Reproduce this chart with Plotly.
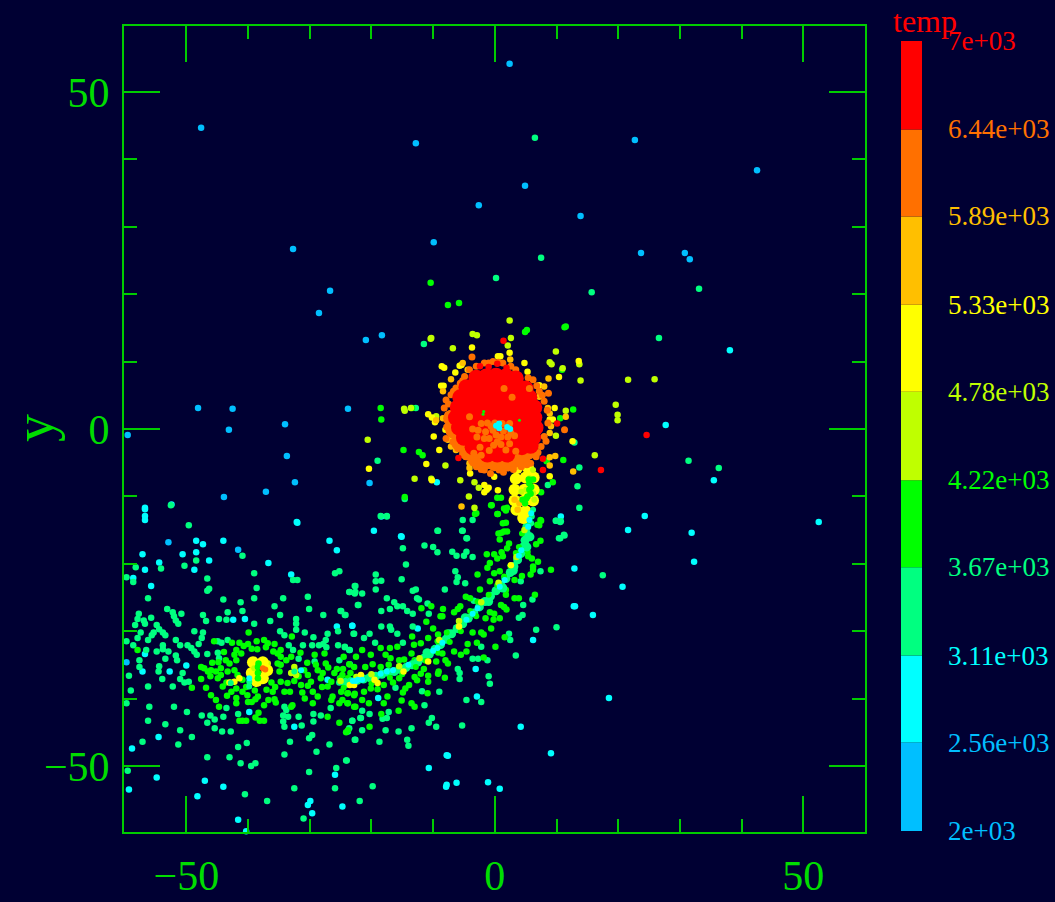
import plotly.graph_objects as go

BG = "#000033"
AXIS = "#00CC00"
LEVELS = [2000, 2560, 3110, 3670, 4220, 4780, 5330, 5890, 6440, 7000]
LEVEL_TEXT = ["2e+03", "2.56e+03", "3.11e+03", "3.67e+03", "4.22e+03", "4.78e+03", "5.33e+03", "5.89e+03", "6.44e+03", "7e+03"]
LEVEL_TEXT_COLOR = ["#00BFFF", "#00BFFF", "#00FFFF", "#00FF80", "#00FF00", "#BFFF00", "#FFFF00", "#FFBF00", "#FF7000", "#FF0000"]
BIN_COLOR = ["#00BFFF", "#00FFFF", "#00FF80", "#00FF00", "#BFFF00", "#FFFF00", "#FFBF00", "#FF7000", "#FF0000"]

DEEP = [(2.4,54.2),(-47.6,44.7),(-12.8,42.4),(22.7,42.9),(42.5,38.4),(4.9,36.1),(-2.6,33.2),(13.9,31.6),(-9.9,27.7),(-32.7,26.7),
(23.7,26.1),(30.8,26.1),(31.6,25.2),(-26.7,20.5),(-28.5,17.2),(-20.9,13.2),(-18.3,13.9),(-48.1,3.1),(-42.5,3.0),(-43.1,-0.1),
(-23.8,3.0),(-34,0.7),(-59.5,-0.9),(-33.7,-4),(-32.4,-7.9),(-37.1,-9.3),(-43.9,-10.1),(-20.3,-8),(-52.9,-16.8),(-41.6,-17.9),(-59.7,-34.6)]

CYAN = [(38.1,11.7),(27.7,0.6),(35.5,-7.6),(52.5,-13.8),(31.9,-15.4),(32.3,-19.7),(21.6,-15),(24.3,-12.9),(20.7,-23.4),(13,-26.3),
(15.9,-27.6),(18.5,-39.9),(4.2,-44.2),(9.1,-48.1),(-1.1,-52.4),(0.8,-53.4),(-7.8,-48.4),(-10.7,-50.3),(-7.8,-52.8),(-6.2,-52.5),
(-56.7,-11.7),(-56.7,-12.9),(-32.1,-13.8),(-56.7,-11.9),(-52.4,-11.2),(-56.7,-13.5),(-48.4,-16.6),(-47.3,-17.1),(-44,-16.6),
(-57.1,-18.6),(-50.6,-18.6),(-48.4,-18.3),(-46.3,-19.5),(-54.4,-19.8),(-56.7,-20.9),(-48.7,-20.9),(-58.6,-22.1),(-55.7,-23.3),
(-32,-13.9),(-26.8,-16.6),(-25.6,-18),(-36.7,-19.9),(-33,-21.6),(-25.6,-29.3),(-23.1,-29.2),(-42.4,-28.3),(-40.5,-28.2),
(-56.7,-33.4),(-57.1,-36),(-52.7,-36),(-50,-35.1),(-27.1,-37.2),(-39.8,-42),(-32.5,-44.2),(-54.5,-45.7),(-58.8,-47.4),(-54.8,-51.7),
(-59.3,-53.5),(-47,-52.2),(-44,-53.1),(-48.2,-54.5),(-41.6,-58),(-40.3,-59.7),(-25.9,-51.3),(-29.9,-55.2),(-30.3,-55.8),(-29.6,-57),
(-24.7,-56),(-18.4,-13),(-19.6,-15.1),(-15.1,-16),(10.7,-13),(12.9,-20.7),(12.8,-26.3),(6.2,-31.3),(-23.1,-29.2),(-12.5,-29.6),
(-3.1,-35.6),(-2.9,-39.7),(-18.9,-39.9),(-7.6,-48.5),(-7.9,-53.1),(-9.4,-7.9),(-15.2,-15.9)]

SPRING = [(6.5,43.2),(7.5,25.4),(0.2,22.4),(33.1,20.8),(15.7,20.3),(26.6,13.5),(-19,-4.7),(-52.5,-11.3),(31.4,-4.7),(36.3,-5.8),(17.5,-21.7),
(-11.5,12.6),(-12.8,3.1),(12.9,-2),(13.7,-5.7),(8.6,-8.3),(13.4,-8.5),(13.7,-11.7),(9.9,-13.6),(10.6,-13.8),(11.3,-15.8),(10.6,-16.2),
(-14.6,-10.4),(-5.2,-13.5),(-3.6,-13.5),(-5.2,-15.1),(-9.2,-15.1),(-4.5,-16.2),(-18.5,-12.9),(-17.5,-12.9),
(-49.6,-14.3),(-40.9,-18.8),(-48.4,-19.5),(-50.3,-20.3),(-54.1,-20.7),(-58.2,-20.5),(-59.7,-22),(-58.6,-22.7),(-46.6,-22.2),(-46.3,-23.7),(-46.6,-24),
(-39,-21.4),(-38.6,-23.6),(-32.7,-22.4),(-32,-22.4),(-25.9,-21.4),(-25.2,-21.1),(-23.5,-24.2),(-22.6,-23.3),(-22.6,-24.2),(-22.1,-26.1),
(-56.2,-25.1),(-44,-25.3),(-41.2,-25.7),(-39,-25.1),(-34.3,-25.1),(-30.3,-24.9),(-35.7,-26.3),(-30.1,-26.7),(-40.9,-27),(-43.3,-27.2),
(-34.8,-27.6),(-27.8,-27.6),(-24.9,-27),(-24.2,-27.6),(-53.1,-26.7),(-52.2,-27.2),(-52,-27.8),(-51.7,-28.4),(-51.3,-28.9),(-50.8,-27.4),
(-57.7,-27.4),(-57.9,-28.2),(-58.3,-29.1),(-56.9,-28.4),(-56.7,-28.9),(-55.7,-28),(-54.8,-29.1),(-54.4,-29.7),(-53.8,-30.2),(-53.4,-30.6),
(-55.3,-30.2),(-55.6,-30.6),(-56.2,-31.3),(-57.4,-30.2),(-57.9,-31),(-59.7,-31.5),(-58.6,-32.1),(-56.5,-32.8),(-54.8,-33),(-53.8,-32.1),
(-53.8,-32.7),(-52.9,-33),(-53.4,-34.1),(-51.7,-31.3),(-51,-32.1),(-51.7,-33.6),(-51.5,-34.3),(-54.4,-35.2),(-54.5,-36),(-57.6,-34.3),
(-57.6,-35.3),(-59.3,-36.6),(-53.9,-37.1),(-56.2,-38.2),(-59,-38.8),(-52.2,-38.2),(-51,-37.1),(-50.3,-37.6),(-49.6,-37.5),(-50.6,-36.2),
(-49.8,-32.1),(-49.2,-32.5),(-48.7,-33),(-48.3,-33.5),(-48,-31.9),(-47.5,-31),(-47.3,-30.2),(-48.7,-30),(-47.3,-27.6),(-46.8,-28.5),
(-44.7,-28.2),(-43.5,-28.3),(-39,-28.9),(-36.4,-28.5),(-32.2,-28.2),(-32.2,-28.9),(-32.2,-29.8),(-34.8,-30),(-34.1,-30.6),(-30.8,-30.2),
(-29.4,-30.9),(-27.1,-30.4),(-27.4,-31.3),(-27.8,-31.9),(-27.3,-32.4),(-25.4,-30),(-22.8,-30.4),(-25.4,-32.1),(-24.3,-32.4),(-23.5,-32.8),
(-33.4,-32.1),(-32.7,-32.8),(-31.1,-32.1),(-29.6,-32.1),(-28.5,-32.1),(-46.6,-33.4),(-44.9,-33.2),(-44.7,-34),(-31.8,-34.1),(-29.2,-34.5),
(-25.2,-34.3),(-23.5,-34.9),(-43.3,-31.3),(-44.3,-31.7),(-44.9,-31.5),(-56,-41.2),(-59.7,-40.7),(-52,-41.2),(-49.9,-42),(-56.2,-43.3),
(-53.4,-43.8),(-47.5,-42.5),(-46.1,-42.5),(-45.4,-43.1),(-46.6,-43.6),(-44,-42.7),(-41.6,-42.3),(-51,-44.7),(-49.1,-45.7),(-45.4,-44.4),
(-44.2,-44.9),(-42.8,-44.9),(-57.1,-46.4),(-51.3,-46.8),(-41.6,-47.2),(-40.2,-46.6),(-46.6,-48.7),(-43,-48.7),(-41.2,-49.6),(-39.5,-50),
(-38.8,-49.6),(-59.5,-50.7),(-40.5,-54.2),(-36.9,-55.2),(-31,-57.8),(-21.9,-55.2),(-25.9,-53.3),(-32.5,-53.3),(-30.1,-50.9),(-25.7,-50.3),
(-24,-49.2),(-34.1,-48.3),(-28.9,-47.9),(-26.8,-46.8),(-33.2,-46.4),(-30.1,-45.9),(-29.6,-45.4),(-22.6,-46.1),(-31.3,-44),(-34.1,-44.2),
(-34.3,-43.4),(-33.5,-42.7),(-34.3,-42.5),(-31.8,-42.7),(-29.4,-42.3),(-29.4,-43.4),(-28.2,-42.5),(-26.6,-41.4),(-23.1,-43.3),(-21.7,-42.9),
(-23.6,-44.4),(-23.8,-44.9),(-34.1,-41.2),(-33.8,-41.7),(-43.5,-41.4),(-25.2,-37.6),
(-17.5,-13),(-9.3,-15.1),(-5.3,-15.1),(-4.6,-16.2),(-11.4,-17.3),(-10,-17.5),(-9.3,-18.3),(-14.9,-17.7),(-14.4,-20.1),(-6.9,-18.2),(-6.2,-18.8),
(-5,-18.8),(-4.6,-18.2),(-3.6,-19),(-19.3,-21.6),(-19.3,-22.6),(-19.3,-23.8),(-18.4,-22.5),(-15.1,-22.3),(-6.4,-21.1),(-6,-22),(-6.2,-22.7),
(-4.8,-22.9),(-8.1,-23.8),(-13.3,-24),(-12.8,-23.8),(-22.7,-23.3),(-22.7,-24.4),(-23.6,-24.2),(-21.5,-24.4),(-22.2,-26.1),(-17.5,-25.1),
(-16.3,-25.7),(-15.8,-26.3),(-14.9,-26.3),(-14.2,-27),(-17,-26.7),(-18.4,-27),(-13.3,-27.4),(-12.6,-25.1),(-12.3,-25.3),(-10.9,-25.9),
(-10.7,-27.4),(-24.3,-27.6),(-25,-27),(-18.4,-29.3),(-17,-29.3),(-16.8,-29.8),(-15.8,-30.4),(-13.3,-29.3),(-20.3,-30.4),(-21.2,-31),
(-22.9,-30.4),(-14.9,-31.7),(-19.4,-31.7),(-24.3,-32.3),(-23.6,-32.8),(-3.4,-25.5),(7.4,-21.1),(4.2,-22.6),(6.1,-25.3),(4.6,-26.1),(4.5,-27.6),
(3.9,-28),(6.7,-29.8),(10,-29.4),(2.3,-30.4),(2.5,-31.3),(3.4,-33.6),(-2.2,-32.3),(-3.6,-34.1),(-2.7,-34.1),(-1.2,-34.3),(-1,-36.7),
(-0.8,-37.8),(-2.2,-40.5),(-4.6,-40.2),(-6,-35.6),(-5.7,-36.2),(-5.7,-37.1),(-9,-39),(-11.8,-38.9),(-16.1,-38.4),(-11.4,-41),(-5.3,-44),
(-9.5,-44.2),(-10.2,-42.9),(-10.7,-43.6),(-13.5,-44.4),(-15.6,-44.9),(-17.7,-44.7),(-21.5,-44.7),(-23.1,-43.3),(-21.5,-41.8),(-21.8,-42.9),
(-20.3,-42.3),(-18.2,-43),(-17.5,-42.9),(-17.2,-42),(-22.7,-46.1),(-18.7,-46.4),(-14.2,-46.1),(-14,-47),(-24.1,-49.2),(-19.8,-53),
(10.7,-13.7),(11.2,-15.7),(10.4,-16.2),(9.9,-13.6)]

GREEN = [(-10.4,21.7),(-7.6,18.4),(-5.8,18.7),(11.3,15.1),(4.9,14.4),(5.2,14.7),(11.5,15.2),(10.9,8.8),(-13.4,3.1),(12.7,2.9),(10.6,1.6),
(-14.8,-3.1),(-11.7,-3.9),(8.4,-4.8),(11.1,-4.6),(9.4,-7.9),(7.5,-9.4),(-0.5,-11.3),(0.5,-12.6),(-3,-12.5),(7.5,-13.6),(7.2,-14.3),
(-18.5,3.1),(-18.4,1.4),(-12.3,-3.4),(-14.6,-10.1),(0.4,-10.2),(1,-10.2),(1.5,-11.8),(1.8,-12.1),(1.3,-14),(0.6,-15.5),(1.5,-15.2),
(-39.9,-30.2),(-32.9,-30.8),(-57.9,-32.8),(-49.1,-38.4),(-45.5,-31.5),(-42.6,-31.7),(-41.4,-31.7),(-40,-31.9),(-38.6,-31.5),(-37.4,-31.3),
(-36.8,-31.8),(-35.7,-31.9),(-41.9,-32.8),(-42.2,-33.5),(-43.6,-34.3),(-43,-34.8),(-41.9,-34.3),(-41.1,-33.3),(-44.4,-35.5),(-45.2,-36),
(-46,-35.8),(-47.1,-35.5),(-47.6,-35.3),(-44.4,-36.5),(-44.9,-37),(-44.1,-38.2),(-47.6,-37.1),(-46.1,-36.7),(-46.8,-38.4),(-42.2,-35.8),
(-41.7,-36.5),(-42.8,-37.6),(-40.9,-37.2),(-41.9,-38.5),(-40.9,-39),(-40.1,-39.5),(-41.9,-39.9),(-41.9,-40.7),(-46,-39.5),(-45.2,-40.2),
(-44.7,-41.2),(-40,-40.5),(-39.4,-40.5),(-38.8,-40.1),(-37.4,-41),(-36.7,-40.2),(-35.7,-40.1),(-35.5,-40.6),(-41.4,-43.3),(-40.9,-43.3),
(-40.3,-43.3),(-38.8,-42.8),(-38.3,-42.1),(-38.1,-43.3),(-37.4,-43.3),(-35.2,-33.3),(-34.7,-33.8),(-35.2,-34.8),(-34.7,-35),(-34.9,-36),
(-34.7,-37.5),(-33.6,-37.7),(-34.1,-39),(-33.2,-39),(-34.7,-32.8),(-33,-33.8),(-33.8,-34.3),(-30.9,-35.8),(-30.3,-36.5),(-29.8,-37.5),
(-30.3,-38.1),(-31.4,-38),(-29.5,-39),(-28.7,-39.7),(-29.5,-40.7),(-29.2,-33.5),(-27.6,-33.3),(-27.4,-34.8),(-28.7,-35.8),(-27.9,-36.2),
(-26,-36.2),(-26.5,-37.5),(-26.3,-39.7),(-26.5,-40.2),(-24.9,-39),(-25.2,-40.7),(-23.8,-39.2),(-23.8,-40.7),(-22.8,-41.2),(-27.1,-42.7),
(-25.2,-43.6),(-22.8,-35.3),(-23.8,-37),(-24.7,-36.5),(-33,-41.2),(-32.8,-41),(-38.4,-39.7),(-27.1,-38.2),
(-3.2,-12.6),(0.4,-12.6),(-0.6,-11.3),(1.8,-13.9),(2,-11.7),(1.1,-15.4),(2,-15.2),(0.8,-16.4),(2.3,-17),(2,-17.7),(6.7,-17.1),(7.4,-16.6),(6.9,-14.2),
(7.4,-13.5),(-1.3,-18.6),(-0.1,-18.6),(0.4,-19.2),(1.1,-18.3),(1.3,-18.9),(5.3,-18.2),(5.4,-18.9),(6,-19.2),(7,-19.7),(9.1,-20.9),(6.2,-20.4),
(6.2,-20.9),(5.8,-21.6),(4.4,-21.8),(3.2,-22.4),(-0.8,-19.9),(-1.2,-20.6),(-0.1,-21.4),(0.8,-21.1),(-2.8,-21.6),(-0.8,-22.6),(-2.4,-23.8),
(-4.7,-24.9),(-4,-25.1),(1.8,-24.6),(1.8,-23.9),(3.2,-25.1),(3.9,-25.1),(6.5,-24.6),(1,-26.1),(1.5,-26.4),(1.9,-26.8),(-0.8,-27.2),(-0.1,-27.4),
(-1.5,-28.1),(-0.2,-28.3),(0.8,-28.1),(-0.6,-29.6),(-3.6,-30.2),(-2.2,-30.2),(-1.8,-30.5),(1.6,-30.9),(0.1,-32.3),(-2.9,-31.7),(-4.4,-31.9),
(-4.6,-33),(-5.5,-33.5),(-6.6,-33),(-1.8,-33.9),(-5.6,-26.3),(-6,-26.7),(-6.6,-27.2),(-8.4,-26.7),(-8.5,-27.8),(-8.8,-27.8),(-10.3,-26.3),
(-11.9,-26.6),(-11.1,-28.6),(-10,-29.6),(-9.2,-30.5),(-10.8,-31),(-12,-31.8),(-13.4,-30.8),(-13.1,-32),(-15.8,-32.3),(-17,-32.5),(-18.5,-32.5),
(-17.7,-33.5),(-20.1,-33.5),(-21.5,-32.8),(-15.5,-34.3),(-14.7,-34.2),(-13.5,-33.3),(-16.9,-34),(-19.8,-34.9),(-18.5,-35.3),(-23.6,-34.9),
(-24.6,-35.6),(-23.4,-36.2),(-9.5,-34.5),(-8,-34.3),(-7.6,-34.8),(-8.5,-33.3),(-12,-36.3),(-12.6,-37.3),(-10.8,-36.6),(-10.8,-37.5),(-9.1,-36),
(-9.2,-36.3),(-8.1,-36.9),(-13.9,-38),(-14.5,-38.5),(-14.9,-39.1),(-15.1,-40.3),(-10.9,-39.2),(-13.5,-40.7),(-13,-41.2),(-17.4,-39.7),(-18,-40.7),
(-21.5,-40.2),(-21.2,-39),(-22.8,-39.5),(-23.9,-39.2),(-20.1,-38.5),(-20.4,-40.7),(-22.6,-41.2),(-23.9,-40.7),(-24.7,-40.2),(-15.6,-41.8),
(-18.4,-42.3),(-20.3,-44.2),(-23.8,-44.7),(-24.1,-45),
(-44.8,-34.6),(-43.9,-33.1),(-45.8,-34.7),(-46.5,-36),(-43.3,-36),(-43.5,-37.6),(-42.7,-39),(-43.4,-39.6),(-40.7,-32.2),(-39.4,-32.6),(-38.5,-32.7),
(-37.1,-32.4),(-35.9,-33),(-36.2,-37.6),(-35.6,-38.3),(-37,-38.7),(-38.9,-38.8),(-40.3,-38.3),(-36,-39),(-32.5,-37.4),(-31.8,-36.7),(-31.2,-39.1),
(-30.8,-40),(-28.2,-37),(-28,-38.3),(-27,-35.4),(-25.6,-35.6),(-25.1,-37),(-24.2,-38),(-22.7,-39.3),(-22.5,-36.8),(-29,-35),(-30.4,-34.7),(-31.5,-33.2),
(-19,-38.6),(-18,-38),(-16.5,-37.6),(-15.5,-37),(-13,-36.8),(-11.5,-35.6),(-24.5,-33.8),(-22.5,-33.8),(-21,-35.3),(-17.2,-35),(-13,-34.3)]

STREAM = [(5.2,-14.5),(5.1,-15.5),(4.9,-16.5),(4.6,-17.5),(4.2,-18.5),(3.7,-19.4),(3.1,-20.4),(2.5,-21.3),(1.8,-22.2),(1.0,-23.2),(0.2,-24),
(-0.7,-24.8),(-1.6,-25.6),(-2.5,-26.4),(-3.4,-27.3),(-4.3,-28.1),(-5.2,-28.9),(-6.1,-29.6),(-7,-30.4),(-7.9,-31.2),(-8.8,-32),(-9.7,-32.7),
(-10.6,-33.4),(-11.5,-34),(-12.5,-34.6),(-13.4,-35),(-14.4,-35.4),(-15.3,-35.7),(-16.3,-36),(-17.3,-36.1),(-18.3,-36.4),(-19.3,-36.7),
(-20.3,-36.9),(-21.3,-37.1),(-22.3,-37.3),(-23.3,-37.5),(-24.3,-37.6),(5.7,-16),(5.2,-17.5),(3,-21),(1.3,-23.6),(-1,-25.6),(-4.8,-28),(-7.5,-30.4),(-11,-33.2)]

STREAM_GREEN = [(4.4,-15.5),(3.9,-17.5),(3.4,-18.4),(2.5,-20.3),(1.5,-21.9),(0.4,-23.2),(-1,-24.6),(-2.8,-25.6),(-4,-27),(-5.8,-28.6),(-7.8,-30.2),(-9.3,-31.5),
(-11.2,-34.4),(-12.8,-35.3),(-15,-36.4),(-17,-36.9),(-20,-37.8),(-24.5,-38.4),(-3,-27.8),(-5.5,-30),(-7.3,-31.6),(-9.2,-33.2)]

LIME = [(-10.3,13.5),(-6.8,12),(-3.6,14.1),(-2.9,13.9),(2.1,12.4),(2.6,13.5),(2.4,16.1),(9.9,11.5),(8.9,9.9),(13.7,9.6),(13.9,7.2),(-14.6,2.7),
(-9.5,1.9),(-8,-5.4),(-10.3,-7.4),(-5.6,-7.6),(-3.3,-7.9),(-2.6,-8.7),(-4.2,-10),(-3.3,-11.7),(9.9,-1),(11.5,2.7),(16.2,-3.9),(21.6,7.3),(25.9,7.4),
(19.6,3.6),(19.9,2.1),(19.9,1.3),(9.2,9.6),(11,9),(-14.7,3),(-13.6,3.1),(-20.6,-1.6),(-13,-7.4),(-10.4,13.4),(3.4,0.6),(4,1.3),
(-36.8,-34.8),(-32.5,-35.3),(-32.2,-36.5),(-33,-36.2),(-32.4,-35.9),
(-20,-36.4),(-15.5,-35.2),(-12.2,-34),(-9,-31.3),(-5.8,-28.5),(-2.2,-25.7),(0.6,-22.8),(3.5,-19),(4.8,-15),(-22.4,-36.8),(-25,-37.4)]

YELLOW = [(13.6,10.1),(2.4,11.3),(10.4,7.7),(-3.7,12.1),(0.5,10.8),(0.9,10.8),(4.8,9.8),(-8.6,9.3),(-8.2,9.1),(-5.4,9.5),(-5.7,9.4),(-6.4,8.4),
(-8.7,6.4),(-8.3,6.4),(7.2,6.5),(5.3,8.5),(9.7,3.1),(8.9,1.4),(9.4,1.4),(-8,-0.1),(-7.1,-0.7),(-0.1,-7.1),(-4,-6.6),(-10.8,2.2),(-10.2,1.7),(-9.7,1),
(-11.1,-5.2),(-9,-3.1),(-9.9,-1.1),(-1.7,-8.3),(-1,-8.7),(-1.3,-9),(-1.7,-9.4),(0.5,-9.1),(8.9,-7),(12.6,-1.8),(-20.4,-5.9),(-10.2,-7.6),
(-43,-37.6),(-42.2,-37.5),(-41.4,-37),(-23.5,-38),(-22.8,-38),(-21.7,-36.5),(-19.5,-37.2),(-19,-37.7),
(-14.8,-36),(-10.8,-34.5),(-5.8,-29.3),(2.6,-20.2)]

NECK_YELLOW = [(3.6,-5.8),(5.4,-5.8),(3.4,-7.4),(5,-7.2),(6.3,-7.2),(3.2,-9),(4.8,-9),(6.3,-9),(3.2,-10.6),(4.8,-10.6),(6.2,-10.6),(3.5,-12),(5,-12.2),(4.6,-13.2),
(-39.2,-34.6),(-37.6,-34.6),(-36.9,-35.8),(-39.4,-36.2),(-37.6,-37),(-38.6,-37.4)]

AMBER = [(11.5,1.8),(9.8,-4),(8.9,-4.2),(8.9,-5.4),(12.7,-6.3),(-5.4,-11.5),(-5.2,9.8),(-4.4,8.8),(-7.1,7.4),(2.5,10.3),(8,6.3),(7.2,4.8),(8.6,3.1),(8.9,2.3),
(9.1,0.4),(8.9,-0.6),(-8.4,5.6),(-8.4,1.6),(-9.5,1.3),(-7.1,-2.6),(-7.6,-1.6),(-4.1,-5.1),(-4.1,-5.8),(-6.3,-3.1),(3.5,-5.6),(8.7,7.5),(3.2,-10.5),(3.7,-12),(4,-11),(-5.5,-2.1),(-6.8,-1.6)]

ORANGE_BIG = [(-4.4,-3.4),(-3,-4.5),(-1.5,-4.8),(0,-5),(1.5,-4.8),(3,-4.6),(4.4,-4.2),(5.4,-3.3),(-5.7,-2),(-6.6,-0.2),(-7,1.6)]

ORANGE = [(-3.7,10.7),(8.7,5.3),(11.3,-0.1),(-1.7,9.8),(-0.3,10),(1.3,9.8),(2.6,9.3),(3.4,8.8),(-3,9.3),(-4.1,8.8),(-4.9,7.8),(-5.6,6.8),(-6.3,6.1),
(-7.1,5.1),(-7.9,4.3),(-8.2,3.1),(-7.6,2.1),(-7.1,1.1),(-7.4,-0.4),(-7.9,-1.4),(-6,-2.9),(-4.7,-4.1),(-3,-5.6),(-1.7,-6.1),(-0.7,-6.6),(0.7,-6.1),
(2.1,-5.8),(6.2,7.3),(7.2,5.6),(8,4.1),(8.6,0.9),(8,-1.1),(7.5,-2.6),(6.7,-4.1),(5.8,-5.1),(4.3,-5.6),
(-7.5,3.7),(-7.8,0.3),(-6.8,-1.9),(-5.2,-3.8),(-2.2,-6),(1.4,-6.4),(3,-6),(5.2,-5.3),(7,-3.5),(8.3,-1.8),(8.5,2.8),(7.7,5),(6.8,6.4),(5.4,7.6),(-1,9.8),(0.6,9.9),(-5.2,7.2),(-6.7,5.6)]

RED = [(1.4,13.1),(-5.9,-4.3),(10.1,0.8),(7.8,-4.4),(7.8,-6.1),(24.6,-0.9),(17.2,-6.1),(-2.4,9.3),(-1,9.2),(0.4,9.7),(1.9,9.1)]

RED_BIG = [(-3,7.6),(-1.4,7.8),(0.2,7.9),(1.8,7.8),(3.4,7.5),(-4.6,6.2),(-3,6.2),(-1.4,6.2),(0.2,6.2),(1.8,6.2),(3.4,6.2),(5,6),
(-5.6,4.7),(-4,4.7),(-2.4,4.7),(-0.8,4.7),(0.8,4.7),(2.4,4.7),(4,4.7),(5.6,4.7),(-6,3.2),(-4.4,3.2),(-2.8,3.2),(-1.2,3.2),(0.4,3.2),(2,3.2),(3.6,3.2),(5.2,3.2),(6.4,3.2),
(-6.3,1.7),(-4.8,1.7),(-3.2,1.7),(-1.6,1.7),(0,1.7),(1.6,1.7),(3.2,1.7),(4.8,1.7),(6.4,1.7),(-5.8,0.2),(-4.2,0.2),(-2.6,0.2),(-1,0.2),(0.6,0.2),(2.2,0.2),(3.8,0.2),(5.4,0.2),(6.6,0.2),
(-5,-1.3),(-3.4,-1.3),(-1.8,-1.3),(-0.2,-1.3),(1.4,-1.3),(3,-1.3),(4.6,-1.3),(6.2,-1.3),(-3.6,-2.7),(-2,-2.8),(-0.4,-2.8),(1.2,-2.8),(2.8,-2.8),(4.4,-2.7),(5.8,-2.5),(-1.2,-3.8),(0.4,-3.8),(2,-3.8)]

CORE_ORANGE = [(1.5,6),(2.8,4.7),(-4.1,1.8),(5.6,6),(-3.6,0),(-2.7,-0.2),(-0.6,0.4),(-1.5,-0.4),(0.2,-0.9),(1,-1.2),(2.1,-1.2),(-0.9,-1.4),(0.4,-1.9),(-1.7,-1.4),(2.6,-0.6),(1.4,-0.3),(-0.3,-0.2),(3.2,-1),(-2.4,-2.7),(-0.9,-3.2),(1.8,-3.1),(3.4,-3.3),(-3.4,-3.6),(-2.2,-3.9),
(-2.2,0.8),(-1.2,0.9),(0,0.9),(1.2,0.8),(2.4,0.8),(-2.9,-1.2),(-0.2,-2.4),(1,-2.3),(2.4,-2.2)]

CORE_DETAIL_GREEN = [(-1.8,2.6),(4,1.3),(-1.9,2.2)]

NECK_LIME = [(5.1,-9),(4.3,-9.3),(6.2,-6.1),(6.4,-10.5),(6.2,-9.5),(5.6,-7.3),(-39,-35.5)]

NECK_GREEN = [(5.6,-8.1),(5.6,-9),(5.3,-10),(5.9,-8.6),(5.1,-10.3),(6.2,-7.5),(4.5,-10.5),(5.5,-7.5),(5.8,-9.6),(4.9,-11),(-38.4,-35.3),(-38.4,-36.2),(-38.3,-34.8),(-38.4,-37)]

NECK_SPRING = [(6.2,-12),(6,-13),(5.9,-14),(-39.8,-37.5),(-39.8,-38.2),(-42.8,-37.7),(-32.5,-36)]

SATELLITE_ORANGE = [(-37.6,-35.5),(-37.2,-35.7)]

STREAM_CYAN = [(-17.5,-36),(-18.5,-36.3),(-16.5,-35.8),(-21.5,-37.2),(-22.5,-37.4),(-23,-37.4),(-14,-35),(-10,-32.9),(-9.3,-32.5),(-8.5,-31.7),(-4.6,-28.3),(-3.6,-27.4),
(-2.8,-26.6),(0.8,-23.4),(1.6,-22.4),(3.9,-18.8),(4.3,-18),(5.4,-14.5),(5.6,-13.5),(5.9,-12.5),(-31.4,-35.8),(-22.2,-37.2),(-39.8,-37),(0.2,0.5),(0.7,0.8),(0.7,0.1),(2,0.3),(2.5,0)]

# points, colour, marker size, in back-to-front order
LAYERS = [
    (DEEP, BIN_COLOR[0], 6.5), (CYAN, BIN_COLOR[1], 6.5), (SPRING, BIN_COLOR[2], 6.5), (GREEN, BIN_COLOR[3], 6.5),
    (STREAM, BIN_COLOR[2], 9), (STREAM_GREEN, BIN_COLOR[3], 6), (LIME, BIN_COLOR[4], 6.5), (YELLOW, BIN_COLOR[5], 6.5), (NECK_YELLOW, BIN_COLOR[5], 12),
    (AMBER, BIN_COLOR[6], 6.5), (ORANGE_BIG, BIN_COLOR[7], 17), (ORANGE, BIN_COLOR[7], 7), (RED_BIG, BIN_COLOR[8], 16),
    (RED, BIN_COLOR[8], 6.5), (CORE_ORANGE, BIN_COLOR[7], 7), (NECK_LIME, BIN_COLOR[4], 6), (NECK_GREEN, BIN_COLOR[3], 6.5), (NECK_SPRING, BIN_COLOR[2], 6),
    (SATELLITE_ORANGE, BIN_COLOR[7], 6), (CORE_DETAIL_GREEN, BIN_COLOR[3], 3), (STREAM_CYAN, BIN_COLOR[1], 6),
]

fig = go.Figure()
for pts, color, size in LAYERS:
    xs, ys = zip(*pts)
    fig.add_trace(go.Scatter(x=xs, y=ys, mode="markers", marker=dict(color=color, size=size, line_width=0),
                             showlegend=False, hoverinfo="skip", cliponaxis=False))

fig.add_trace(go.Bar(x=[0] * 9, y=[b - a for a, b in zip(LEVELS[:-1], LEVELS[1:])], base=LEVELS[:-1],
                     marker=dict(color=BIN_COLOR, line_width=0), width=1, xaxis="x2", yaxis="y2",
                     showlegend=False, hoverinfo="skip"))

tick_font = dict(family="Liberation Serif", size=42, color="#00DD00")
axis_common = dict(showgrid=False, zeroline=False, showline=True, linecolor=AXIS, linewidth=2, mirror="allticks", automargin=False,
                   ticks="inside", ticklen=36, tickwidth=2, tickcolor=AXIS, tickfont=tick_font, tickvals=[-50, 0, 50],
                   ticktext=["\u221250", "0", "50"],
                   minor=dict(tickvals=[-60, -40, -30, -20, -10, 10, 20, 30, 40, 60], ticks="inside", ticklen=13, tickwidth=2, tickcolor=AXIS))

annotations = [dict(x=946 / 1055, y=v, xref="paper", yref="y2", text=t, showarrow=False, xanchor="left", yanchor="middle",
                    font=dict(family="Liberation Serif", size=27, color=c))
               for v, t, c in zip(LEVELS, LEVEL_TEXT, LEVEL_TEXT_COLOR)]
annotations.append(dict(x=891 / 1055, y=1 - 21 / 902, xref="paper", yref="paper", text="temp", showarrow=False, xanchor="left",
                        yanchor="middle", font=dict(family="Liberation Serif", size=32, color="#FF0000")))
annotations.append(dict(x=34 / 1055, y=1 - 428 / 902, xref="paper", yref="paper", text="y", showarrow=False, textangle=-90,
                        xanchor="center", yanchor="middle", font=dict(family="Liberation Serif", size=56, color="#00DD00")))

fig.update_layout(
    width=1055, height=902, margin=dict(l=0, r=0, t=0, b=0), autosize=False,
    paper_bgcolor=BG, plot_bgcolor=BG, barmode="overlay", annotations=annotations,
    xaxis=dict(domain=[124 / 1055, 865 / 1055], range=[-60.1, 60], ticklabelstandoff=6, **axis_common),
    yaxis=dict(domain=[1 - 832 / 902, 1 - 26 / 902], range=[-59.8, 59.8], ticklabelstandoff=4, **axis_common),
    xaxis2=dict(domain=[901 / 1055, 922 / 1055], range=[-0.5, 0.5], visible=False, anchor="y2"),
    yaxis2=dict(domain=[1 - 831 / 902, 1 - 41 / 902], range=[2000, 7000], visible=False, anchor="x2"),
)

fig.write_html("out.html", config=dict(displayModeBar=False),
               post_script="document.body.style.margin='0';document.body.style.overflow='hidden';document.body.style.background='#000033';")
